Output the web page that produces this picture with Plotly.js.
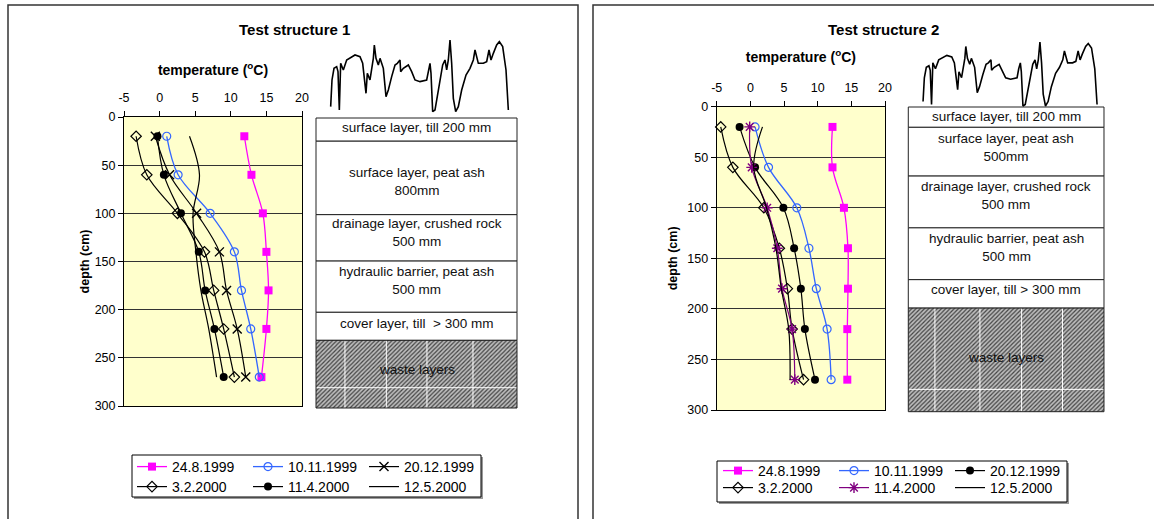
<!DOCTYPE html>
<html><head><meta charset="utf-8">
<script src="https://cdn.plot.ly/plotly-3.0.1.min.js"></script>
<style>html,body{margin:0;padding:0;background:#fff;}#chart{width:1154px;height:519px;}</style>
</head><body><div id="chart"></div>
<script>
// ---------- data ----------
const depths = [20, 60, 100, 140, 180, 220, 270];
const seriesNames = ['24.8.1999', '10.11.1999', '20.12.1999', '3.2.2000', '11.4.2000', '12.5.2000'];

// Test structure 1 (temperature, °C)
const ts1_24_8_1999  = [11.9, 12.9, 14.5, 15.0, 15.3, 15.0, 14.3];
const ts1_10_11_1999 = [1.0, 2.6, 7.1, 10.5, 11.5, 12.8, 14.0];
const ts1_20_12_1999 = [-0.6, 1.4, 5.2, 8.4, 9.4, 10.9, 12.1];
const ts1_3_2_2000   = [-3.3, -1.8, 2.5, 6.3, 7.6, 9.0, 10.5];
const ts1_11_4_2000  = [-0.3, 0.6, 3.0, 5.5, 6.4, 7.7, 9.0];
const ts1_12_5_2000  = [4.2, 5.6, 4.7, 5.1, 5.8, 6.9, 8.0];

// Test structure 2 (temperature, °C)
const ts2_24_8_1999  = [12.2, 12.2, 13.9, 14.5, 14.5, 14.4, 14.4];
const ts2_10_11_1999 = [0.7, 2.7, 6.9, 8.7, 9.8, 11.4, 12.0];
const ts2_20_12_1999 = [-1.6, 0.7, 4.9, 6.5, 7.5, 8.1, 9.6];
const ts2_3_2_2000   = [-4.4, -2.6, 2.0, 4.3, 5.5, 6.2, 7.9];
const ts2_11_4_2000  = [-0.1, 0.2, 2.5, 4.0, 4.7, 6.2, 6.6];
const ts2_12_5_2000  = [1.8, 0.5, 2.4, 3.8, 4.6, 5.7, 5.9];

// axis ticks
const tempTickVals = [-5, 0, 5, 10, 15, 20];
const tempTickText = ['-5', '0', '5', '10', '15', '20'];
const depthTickVals = [0, 50, 100, 150, 200, 250, 300];

// layer tables (depth of each layer top, cm, on the table scale; table ends at 300)
const layers1Top = [0, 24, 100, 148, 201, 230];
const layers1Labels = ['surface layer, till 200 mm', 'surface layer, peat ash<br>800mm',
  'drainage layer, crushed rock<br>500 mm', 'hydraulic barrier, peat ash<br>500 mm',
  'cover layer, till  > 300 mm', 'waste layers'];
const layers1WasteLinesX = [0.144, 0.35, 0.552, 0.781];
const layers1WasteLineY = 279;

const layers2Top = [0, 20, 68, 119, 170, 198];
const layers2Labels = ['surface layer, till 200 mm', 'surface layer, peat ash<br>500mm',
  'drainage layer, crushed rock<br>500 mm', 'hydraulic barrier, peat ash<br>500 mm',
  'cover layer, till > 300 mm', 'waste layers'];
const layers2WasteLinesX = [0.136, 0.366, 0.579, 0.788];
const layers2WasteLineY = 278;
const tableBottom = 300;

// decorative sketch (vegetation outline)
const sketchX = [62,66,72,80,84,88,92,100,110,120,135,150,158,168,172,180,190,193,198,205,210,215,220,228,235,245,255,262,270,272,280,295,305,315,330,350,355,360,363,368,375,385,392,398,405,410,415,420,425,430,437,445,455,468,480,490,495,500,505,520,530,537,543,550,560,568,578,588,595];
const sketchY = [200,120,85,80,95,210,70,90,60,55,45,50,70,160,100,120,55,15,55,75,55,70,85,170,150,110,75,70,60,95,85,75,95,120,125,120,90,70,100,215,210,150,110,75,60,90,60,0,70,175,215,200,150,105,85,60,30,55,70,70,65,30,60,40,15,5,20,90,210];

// ---------- layout helpers ----------
const W = 1154, H = 519;
const FONT = 'Liberation Sans, Arial, sans-serif';
const px = x => x / W;
const py = y => 1 - y / H;

const styles = {
  '24.8.1999':  {mode: 'lines+markers', line: {color: '#FF00FF', width: 1.3}, marker: {symbol: 'square', size: 8, color: '#FF00FF'}},
  '10.11.1999': {mode: 'lines+markers', line: {color: '#3366FF', width: 1.3}, marker: {symbol: 'circle-open', size: 8, color: '#3366FF', line: {width: 1.2}}},
  'x':          {mode: 'lines+markers', line: {color: '#000', width: 1.2}, marker: {symbol: 'x-thin-open', size: 9, color: '#000', line: {width: 1.4}}},
  'dot':        {mode: 'lines+markers', line: {color: '#000', width: 1.2}, marker: {symbol: 'circle', size: 8, color: '#000'}},
  'diamond':    {mode: 'lines+markers', line: {color: '#000', width: 1.2}, marker: {symbol: 'diamond-open', size: 8, color: '#000', line: {width: 1.2}}},
  'star':       {mode: 'lines+markers', line: {color: '#800080', width: 1.2}, marker: {symbol: 'asterisk-open', size: 9, color: '#800080', line: {width: 1.4}}},
  'plain':      {mode: 'lines', line: {color: '#000', width: 1.2}}
};

function series(name, vals, style, xa, ya, legend) {
  const s = styles[style];
  return Object.assign({
    type: 'scatter', name: name, x: vals, y: depths, xaxis: xa, yaxis: ya, legend: legend,
    cliponaxis: false,
  }, JSON.parse(JSON.stringify(s)), {line: Object.assign({}, s.line, {shape: 'spline', smoothing: 1})});
}

const data = [
  series(seriesNames[0], ts1_24_8_1999, '24.8.1999', 'x', 'y', 'legend'),
  series(seriesNames[1], ts1_10_11_1999, '10.11.1999', 'x', 'y', 'legend'),
  series(seriesNames[2], ts1_20_12_1999, 'x', 'x', 'y', 'legend'),
  series(seriesNames[3], ts1_3_2_2000, 'diamond', 'x', 'y', 'legend2'),
  series(seriesNames[4], ts1_11_4_2000, 'dot', 'x', 'y', 'legend2'),
  series(seriesNames[5], ts1_12_5_2000, 'plain', 'x', 'y', 'legend2'),
  series(seriesNames[0], ts2_24_8_1999, '24.8.1999', 'x2', 'y2', 'legend3'),
  series(seriesNames[1], ts2_10_11_1999, '10.11.1999', 'x2', 'y2', 'legend3'),
  series(seriesNames[2], ts2_20_12_1999, 'dot', 'x2', 'y2', 'legend3'),
  series(seriesNames[3], ts2_3_2_2000, 'diamond', 'x2', 'y2', 'legend4'),
  series(seriesNames[4], ts2_11_4_2000, 'star', 'x2', 'y2', 'legend4'),
  series(seriesNames[5], ts2_12_5_2000, 'plain', 'x2', 'y2', 'legend4')
];

// waste hatch + white lines
function wasteTraces(tops, linesX, lineY, xa, ya) {
  const top = tops[tops.length - 1];
  const lx = [], ly = [];
  linesX.forEach(v => { lx.push(v, v, null); ly.push(top, tableBottom, null); });
  lx.push(0, 1); ly.push(lineY, lineY);
  return [
    {type: 'scatter', x: [0, 1, 1, 0, 0], y: [top, top, tableBottom, tableBottom, top], xaxis: xa, yaxis: ya,
     mode: 'lines', line: {width: 0, color: 'rgba(0,0,0,0)'}, fill: 'toself', fillcolor: '#aaa',
     fillpattern: {shape: '/', fgcolor: '#444', bgcolor: '#bdbdbd', size: 3, solidity: 0.4},
     showlegend: false, hoverinfo: 'skip'},
    {type: 'scatter', x: lx, y: ly, xaxis: xa, yaxis: ya, mode: 'lines', line: {color: '#fff', width: 1},
     showlegend: false, hoverinfo: 'skip'}
  ];
}
data.push(...wasteTraces(layers1Top, layers1WasteLinesX, layers1WasteLineY, 'x3', 'y3'));
data.push(...wasteTraces(layers2Top, layers2WasteLinesX, layers2WasteLineY, 'x4', 'y4'));

// sketches
data.push({type: 'scatter', x: sketchX, y: sketchY, xaxis: 'x5', yaxis: 'y5', mode: 'lines',
  line: {color: '#000', width: 1.6}, showlegend: false, cliponaxis: false, hoverinfo: 'skip'});
data.push({type: 'scatter', x: sketchX, y: sketchY, xaxis: 'x6', yaxis: 'y6', mode: 'lines',
  line: {color: '#000', width: 1.6}, showlegend: false, cliponaxis: false, hoverinfo: 'skip'});

// ---------- axes ----------
function tempAxis(domain, anchor, standoff) {
  return {domain: domain, anchor: anchor, side: 'top', range: [-5, 20], tickmode: 'array',
    tickvals: tempTickVals, ticktext: tempTickText, ticks: 'outside', ticklen: 5, tickcolor: '#000',
    ticklabelstandoff: 4, showline: true, mirror: true, linecolor: '#000', linewidth: 1, showgrid: false,
    zeroline: false, tickfont: {family: FONT, size: 12.5, color: '#000'},
    title: {text: 'temperature (<sup>o</sup>C)', font: {family: FONT, size: 14, color: '#000', weight: 'bold'}, standoff: standoff}};
}
function depthAxis(domain, anchor, standoff) {
  return {domain: domain, anchor: anchor, range: [300, 0], tickmode: 'array', tickvals: depthTickVals,
    ticks: 'outside', ticklen: 5, tickcolor: '#000', showline: true, mirror: true, linecolor: '#000', linewidth: 1,
    showgrid: true, gridcolor: '#333', gridwidth: 1, zeroline: false,
    tickfont: {family: FONT, size: 12.5, color: '#000'},
    title: {text: 'depth (cm)', font: {family: FONT, size: 12.5, color: '#000', weight: 'bold'}, standoff: standoff}};
}
function hidden(domain, anchor, range) {
  return {domain: domain, anchor: anchor, range: range, visible: false, fixedrange: true};
}
// table axes padded so borders are not clipped
function tableAxes(x0, x1, y0, y1) {
  const padX = 0.02, sx = (x1 - x0);
  const sy = (y1 - y0) / tableBottom, padY = 3;
  return {
    x: [px(x0 - padX * sx), px(x1 + padX * sx)], xr: [-padX, 1 + padX],
    y: [py(y1 + padY * sy), py(y0 - padY * sy)], yr: [tableBottom + padY, -padY]
  };
}
const t1 = tableAxes(316, 517, 118, 408);
const t2 = tableAxes(908.3, 1104, 107, 411.7);

const layout = {
  width: W, height: H, margin: {l: 0, r: 0, t: 0, b: 0, autoexpand: false}, paper_bgcolor: '#fff', plot_bgcolor: 'rgba(0,0,0,0)',
  font: {family: FONT, size: 12, color: '#000'},
  xaxis: tempAxis([px(124), px(302)], 'y', 12),
  yaxis: depthAxis([py(406), py(117)], 'x', 2),
  xaxis2: tempAxis([px(716.7), px(885)], 'y2', 14),
  yaxis2: depthAxis([py(410), py(106.7)], 'x2', 6),
  xaxis3: hidden(t1.x, 'y3', t1.xr), yaxis3: hidden(t1.y, 'x3', t1.yr),
  xaxis4: hidden(t2.x, 'y4', t2.xr), yaxis4: hidden(t2.y, 'x4', t2.yr),
  xaxis5: hidden([px(310), px(510)], 'y5', [0, 600]), yaxis5: hidden([py(113.3), py(40)], 'x5', [220, 0]),
  xaxis6: hidden([px(902.8), px(1098.7)], 'y6', [0, 600]), yaxis6: hidden([py(107.5), py(42)], 'x6', [220, 0]),
  shapes: [], annotations: []
};

const legendBase = {orientation: 'h', xanchor: 'left', yanchor: 'top', entrywidth: 71, entrywidthmode: 'pixels',
  font: {family: FONT, size: 14, color: '#000'}, bgcolor: 'rgba(0,0,0,0)', borderwidth: 0, itemclick: false, itemdoubleclick: false};
layout.legend  = Object.assign({}, legendBase, {x: px(132), y: py(451)});
layout.legend2 = Object.assign({}, legendBase, {x: px(132), y: py(471)});
layout.legend3 = Object.assign({}, legendBase, {x: px(718), y: py(455)});
layout.legend4 = Object.assign({}, legendBase, {x: px(718), y: py(472)});

// plot backgrounds
['', '2'].forEach(n => layout.shapes.push({type: 'rect', xref: 'x' + n + ' domain', yref: 'y' + n + ' domain',
  x0: 0, x1: 1, y0: 0, y1: 1, fillcolor: '#FFFFCC', line: {width: 0}, layer: 'below'}));

// outer frames
layout.shapes.push({type: 'rect', xref: 'paper', yref: 'paper', x0: px(8), x1: px(578), y0: py(5), y1: py(560),
  line: {color: '#333', width: 1.5}, fillcolor: 'rgba(0,0,0,0)'});
layout.shapes.push({type: 'rect', xref: 'paper', yref: 'paper', x0: px(593), x1: px(1180), y0: py(5), y1: py(560),
  line: {color: '#333', width: 1.5}, fillcolor: 'rgba(0,0,0,0)'});

// legend boxes with shadow
[[132, 481, 455, 497], [717, 1067, 461, 502]].forEach(b => {
  layout.shapes.push({type: 'rect', xref: 'paper', yref: 'paper', x0: px(b[0] + 2), x1: px(b[1] + 2), y0: py(b[2] + 2), y1: py(b[3] + 2),
    line: {width: 0}, fillcolor: '#999', layer: 'below'});
  layout.shapes.push({type: 'rect', xref: 'paper', yref: 'paper', x0: px(b[0]), x1: px(b[1]), y0: py(b[2]), y1: py(b[3]),
    line: {color: '#000', width: 1}, fillcolor: '#fff', layer: 'below'});
});

// layer tables (label vertical nudges in px, layout only)
const table1LabelShift = [2, -4, 5, 6, 3, 5];
const table2LabelShift = [1, 4, 6, 6, 4, 2];
function addTable(tops, labels, xa, ya, shifts) {
  tops.forEach((t, i) => {
    const b = i + 1 < tops.length ? tops[i + 1] : tableBottom;
    const last = i === tops.length - 1;
    layout.shapes.push({type: 'rect', xref: xa, yref: ya, x0: 0, x1: 1, y0: t, y1: b,
      line: {color: '#222', width: 1}, fillcolor: last ? 'rgba(0,0,0,0)' : '#fff', layer: last ? 'above' : 'below'});
    layout.annotations.push({xref: xa, yref: ya, x: 0.5, y: (t + b) / 2, text: labels[i], showarrow: false,
      yshift: shifts[i], font: {family: FONT, size: 13.5, color: '#111'}, align: 'center'});
  });
}
addTable(layers1Top, layers1Labels, 'x3', 'y3', table1LabelShift);
addTable(layers2Top, layers2Labels, 'x4', 'y4', table2LabelShift);

// chart titles
layout.annotations.push({xref: 'paper', yref: 'paper', x: px(294), y: py(30), xanchor: 'center', yanchor: 'middle', text: 'Test structure 1', showarrow: false,
  font: {family: FONT, size: 15, color: '#000', weight: 'bold'}});
layout.annotations.push({xref: 'paper', yref: 'paper', x: px(883), y: py(30), xanchor: 'center', yanchor: 'middle', text: 'Test structure 2', showarrow: false,
  font: {family: FONT, size: 15, color: '#000', weight: 'bold'}});

Plotly.newPlot('chart', data, layout, {displayModeBar: false, staticPlot: true});
</script>
</body></html>
